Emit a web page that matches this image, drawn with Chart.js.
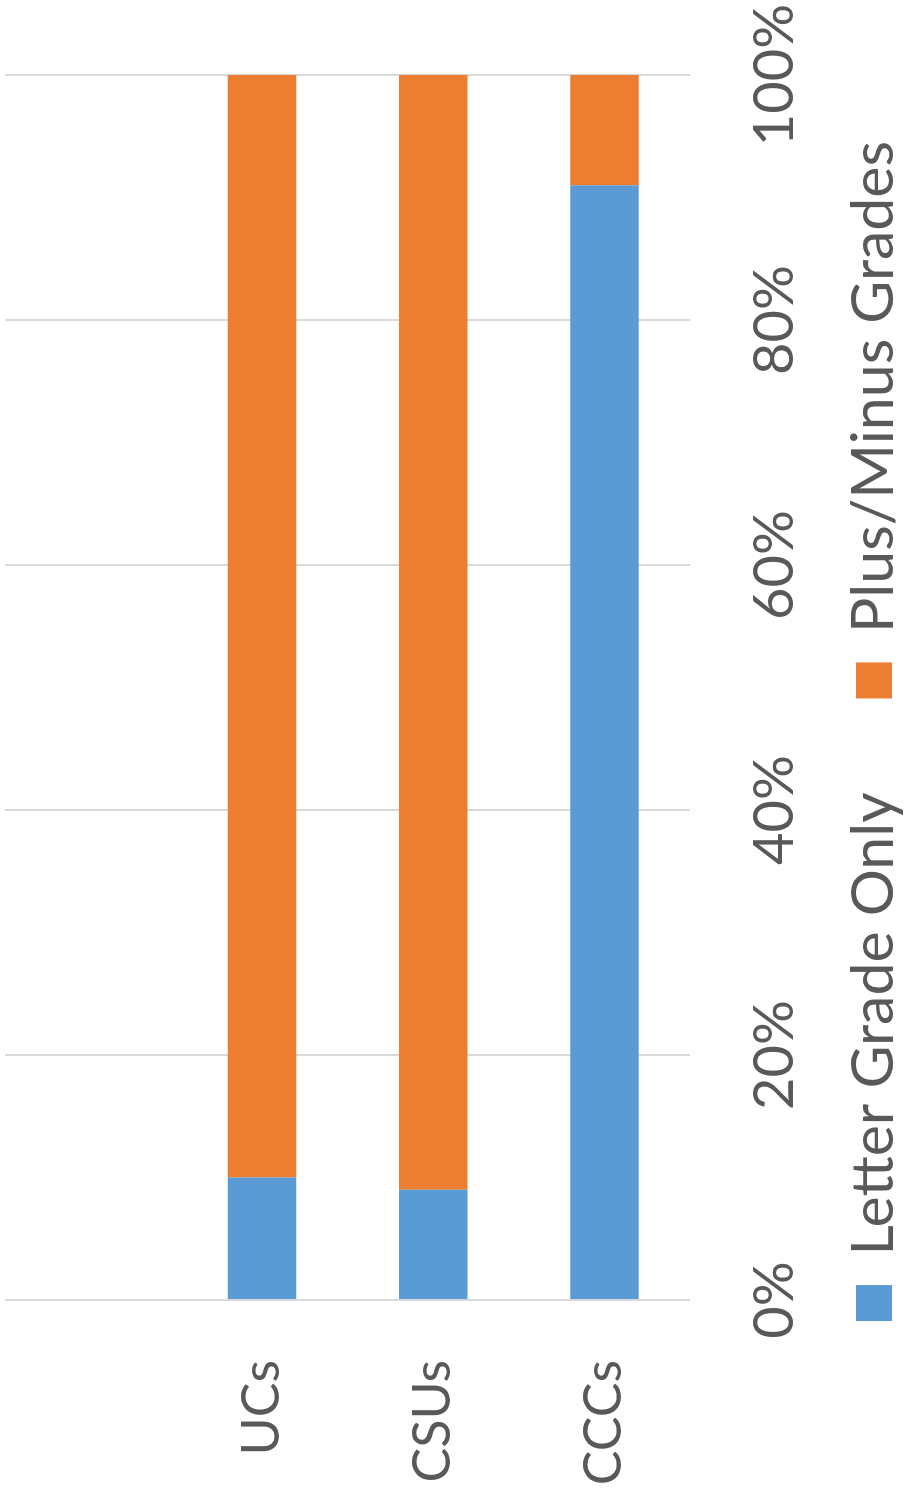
<!DOCTYPE html>
<html>
<head>
<meta charset="utf-8">
<script src="https://cdn.jsdelivr.net/npm/chart.js@4"></script>
<style>
  html, body { margin: 0; padding: 0; background: #fff; overflow: hidden; }
  /* chart is drawn lying on its side, then turned to stand upright */
  #wrap {
    position: absolute; left: 0; top: 0;
    width: 1492px; height: 908px;
    transform-origin: 0 0;
    transform: translate(0, 1492px) rotate(-90deg);
  }
</style>
</head>
<body>
<div id="wrap"><canvas id="gradesChart" width="1492" height="908"></canvas></div>
<script>
const categories = ['', 'UCs', 'CSUs', 'CCCs'];
const letterGradeOnly = [null, 10, 9, 91];
const plusMinusGrades = [null, 90, 91, 9];
const valueTicks = [0, 20, 40, 60, 80, 100];

const textColor = '#595959';
const tickFont = { family: 'Lato', size: 56 };
const catFont = { family: 'Lato', size: 52 };
const legendFont = { family: 'Lato', size: 59 };

// the legend has a wide gap between items, so its box is stretched upward after layout
const legendNudge = {
  id: 'legendNudge',
  afterLayout(chart) {
    const lg = chart.legend;
    lg.left += 30;
    lg.top -= 69.5;
    lg.height = lg.bottom - lg.top;
  }
};

const ctx = document.getElementById('gradesChart').getContext('2d');

new Chart(ctx, {
  type: 'bar',
  data: {
    labels: categories,
    datasets: [{
      label: 'Letter Grade Only',
      data: letterGradeOnly,
      backgroundColor: '#5B9BD5'
    }, {
      label: 'Plus/Minus Grades',
      data: plusMinusGrades,
      backgroundColor: '#ED7D31'
    }]
  },
  options: {
    indexAxis: 'y',
    responsive: false,
    animation: false,
    categoryPercentage: 1,
    barPercentage: 0.4,
    layout: { padding: { left: 0, right: 0, top: 5, bottom: 0 } },
    plugins: {
      tooltip: { enabled: false },
      legend: {
        position: 'bottom',
        maxHeight: 88,
        labels: {
          color: textColor,
          font: legendFont,
          boxWidth: 36,
          boxHeight: 36,
          padding: 94
        }
      }
    },
    scales: {
      x: {
        stacked: true,
        min: 0,
        max: 100,
        afterBuildTicks: scale => {
          scale.ticks = valueTicks.map(v => ({ value: v }));
        },
        afterFit: scale => {
          scale.height = 130;
          scale.paddingLeft = 0;
          scale.paddingRight = 75;
        },
        ticks: {
          color: textColor,
          font: tickFont,
          padding: 51,
          maxRotation: 0,
          callback: v => v + '%'
        },
        grid: { color: '#D9D9D9', lineWidth: 2, drawTicks: false },
        border: { display: false }
      },
      y: {
        stacked: true,
        afterFit: scale => {
          scale.width = 192;
          scale.paddingTop = 0;
          scale.paddingBottom = 0;
        },
        ticks: { color: textColor, font: catFont, padding: 60 },
        grid: { display: false, drawTicks: false },
        border: { display: false }
      }
    }
  },
  plugins: [legendNudge]
});
</script>
</body>
</html>
